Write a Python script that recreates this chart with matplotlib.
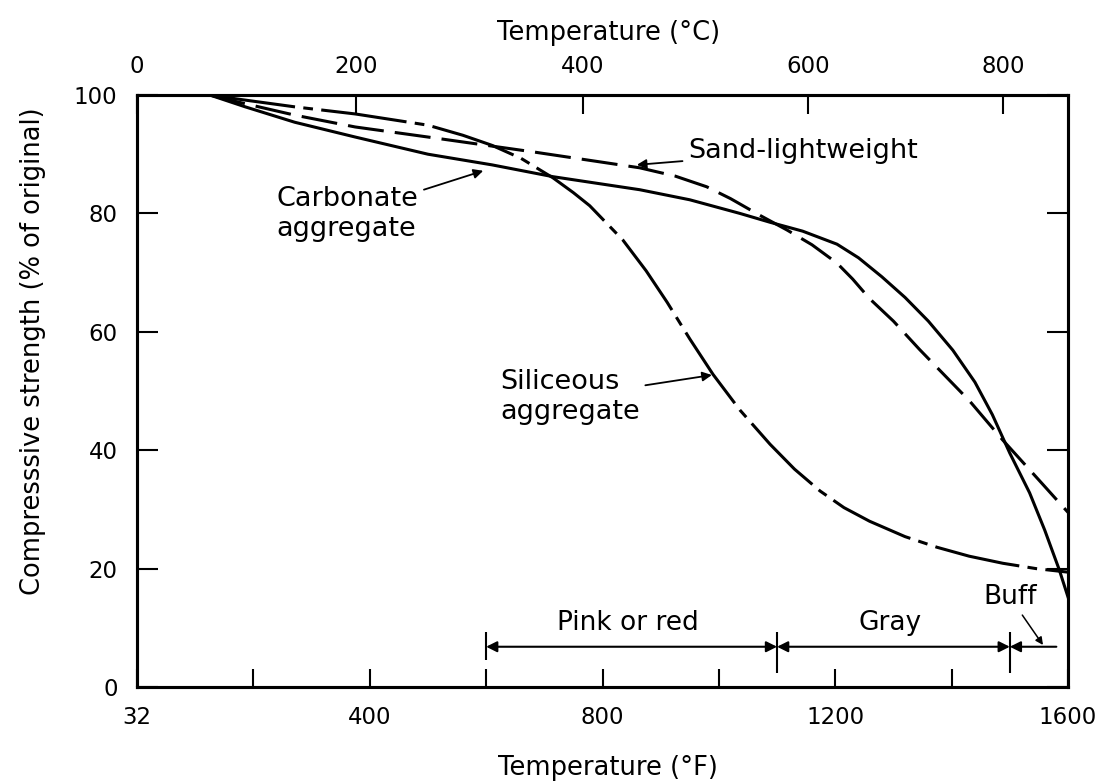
"""Compressive strength of concrete vs. exposure temperature, by aggregate type."""

import matplotlib

matplotlib.use("Agg")
import matplotlib.pyplot as plt

plt.rcParams["font.family"] = "DejaVu Sans"
plt.rcParams["lines.scale_dashes"] = False

# temperature in deg F, strength in % of original
CARB_F = [125, 186, 271, 375, 500, 610, 715, 864, 950, 1036, 1088, 1144,
          1203, 1240, 1280, 1320, 1360, 1402, 1440, 1470, 1500, 1534, 1560,
          1585, 1600]
CARB_S = [100, 98.0, 95.4, 92.9, 90.0, 88.2, 86.2, 84.0, 82.3, 80.0, 78.5,
          77.0, 74.8, 72.5, 69.3, 65.8, 61.8, 56.9, 51.5, 46.0, 39.5, 32.8,
          26.5, 19.8, 15.2]

SAND_F = [125, 174, 271, 375, 500, 680, 864, 925, 979, 1020, 1070, 1117,
          1160, 1203, 1230, 1259, 1300, 1345, 1431, 1488, 1557, 1600]
SAND_S = [100, 98.8, 96.6, 94.6, 92.9, 90.4, 87.7, 86.3, 84.5, 82.5, 79.7,
          77.2, 74.7, 71.6, 68.9, 65.6, 61.8, 57.0, 48.3, 41.7, 34.2, 29.5]

SIL_F = [125, 174, 271, 375, 500, 560, 610, 660, 715, 750, 778, 835, 875,
         911, 950, 990, 1036, 1088, 1130, 1174, 1215, 1259, 1320, 1375, 1430,
         1488, 1545, 1600]
SIL_S = [100, 99.3, 98.0, 96.8, 94.9, 93.2, 91.5, 89.3, 86.0, 83.5, 81.3,
         75.5, 70.3, 65.0, 58.8, 52.8, 46.8, 41.0, 36.8, 33.1, 30.3, 28.0,
         25.4, 23.6, 22.1, 20.9, 20.0, 19.4]

# axes
F_TICKS = [0, 400, 800, 1200, 1600]
F_LABELS = ["32", "400", "800", "1200", "1600"]
F_MINOR = [200, 600, 1000, 1400]
C_LABELS = ["0", "200", "400", "600", "800"]
C_TICK_POS_F = [0, 376, 766, 1153, 1488]  # where the deg C ticks sit on the deg F scale
Y_TICKS = [0, 20, 40, 60, 80, 100]

# colour bands along the bottom (deg F)
BAND_EDGES = [600, 1100, 1500, 1580]
BAND_LABELS = ["Pink or red", "Gray", "Buff"]

FS_TICK = 16.5
FS_TEXT = 19.5


def main() -> None:
    fig = plt.figure(figsize=(10.98, 7.81), dpi=100)
    ax = fig.add_axes([137 / 1098, 94 / 781, 931 / 1098, 592 / 781])

    ax.plot(CARB_F, CARB_S, color="black", lw=2.2)
    ax.plot(SAND_F, SAND_S, color="black", lw=2.2, linestyle=(0, (26, 8)))
    ax.plot(SIL_F, SIL_S, color="black", lw=2.2, linestyle=(0, (62, 6, 7, 6)))

    ax.set_xlim(0, 1600)
    ax.set_ylim(0, 100)
    ax.set_xticks(F_TICKS)
    ax.set_xticklabels(F_LABELS)
    ax.set_xticks(F_MINOR, minor=True)
    ax.set_yticks(Y_TICKS)
    ax.tick_params(axis="x", which="both", direction="in", length=13,
                   width=1.5, pad=14, labelsize=FS_TICK, top=False)
    ax.tick_params(axis="y", direction="in", length=15, width=1.5, pad=14,
                   labelsize=FS_TICK, right=True)

    top = ax.twiny()
    top.set_xlim(ax.get_xlim())
    top.set_xticks(C_TICK_POS_F)
    top.set_xticklabels(C_LABELS)
    top.tick_params(direction="in", length=14, width=1.5, pad=12,
                    labelsize=FS_TICK)

    for a in (ax, top):
        for sp in a.spines.values():
            sp.set_linewidth(2.2)

    ax.set_xlabel("Temperature (°F)", fontsize=18.5)
    ax.xaxis.set_label_coords(0.506, -0.115)
    top.set_xlabel("Temperature (°C)", fontsize=18.5)
    top.xaxis.set_label_coords(0.506, 1.093)
    ax.set_ylabel("Compresssive strength (% of original)", fontsize=18.5)
    ax.yaxis.set_label_coords(-0.098, 0.568)

    # curve labels
    arrow = dict(arrowstyle="-|>", color="black", lw=1.3, shrinkA=2,
                 shrinkB=0, mutation_scale=14)
    ax.annotate("Sand-lightweight", xy=(859, 88.2), xytext=(947, 90.5),
                ha="left", va="center", fontsize=FS_TEXT, arrowprops=arrow)
    ax.annotate("Carbonate\naggregate", xy=(595, 87.2), xytext=(240, 79.9),
                ha="left", va="center", fontsize=FS_TEXT, arrowprops=arrow)
    ax.annotate("Siliceous\naggregate", xy=(988, 52.7), xytext=(624, 49.0),
                ha="left", va="center", fontsize=FS_TEXT, arrowprops=arrow)

    # colour bands
    band_y = 6.8
    ax.vlines(BAND_EDGES[:3], [4.6, 2.4, 2.4], 9.3, color="black", lw=1.5)
    span = dict(arrowstyle="<|-|>", color="black", lw=1.5, shrinkA=0,
                shrinkB=0, mutation_scale=16)
    for lo, hi, label in zip(BAND_EDGES[:2], BAND_EDGES[1:3], BAND_LABELS[:2]):
        ax.annotate("", xy=(hi, band_y), xytext=(lo, band_y), arrowprops=span)
        ax.text((lo + hi) / 2 - 6, band_y + 4, label, ha="center",
                va="center", fontsize=19)
    ax.annotate("", xy=(BAND_EDGES[2], band_y), xytext=(BAND_EDGES[3], band_y),
                arrowprops=dict(span, arrowstyle="-|>"))
    ax.annotate(BAND_LABELS[2], xy=(1557, band_y + 0.3), xytext=(1500, 15.2),
                ha="center", va="center", fontsize=19,
                arrowprops=dict(arrow, lw=1.1, mutation_scale=11))

    fig.savefig("out.png", dpi=100)


if __name__ == "__main__":
    main()
